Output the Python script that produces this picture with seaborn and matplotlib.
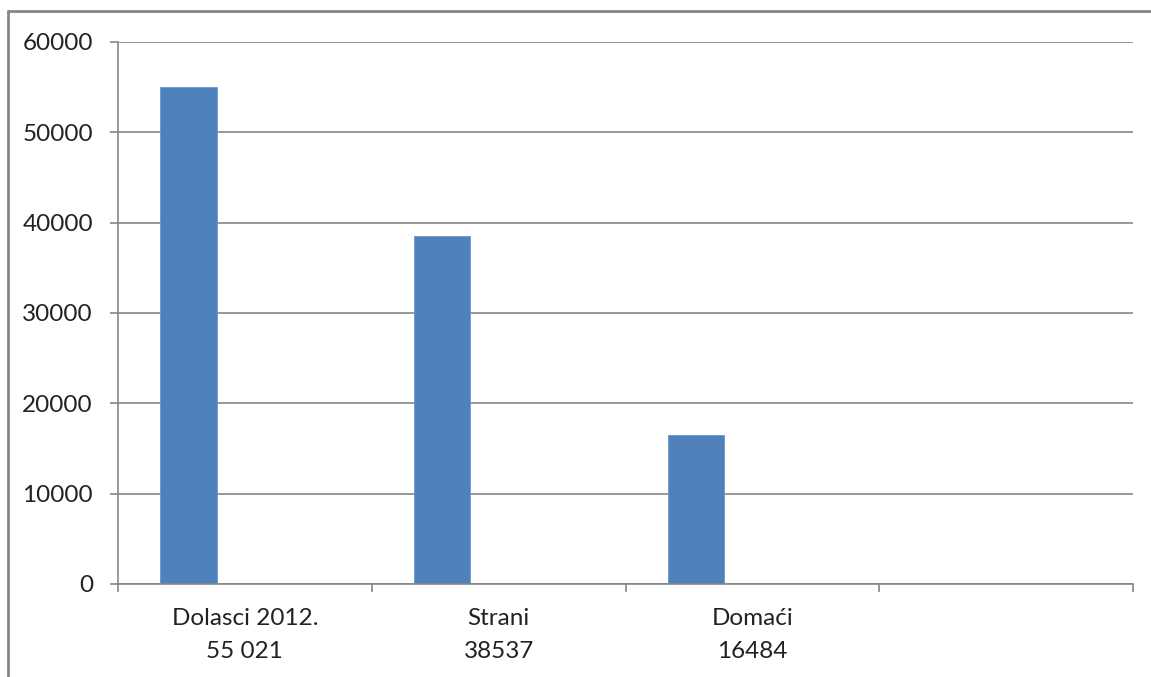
import pandas as pd
import seaborn as sns
import matplotlib.pyplot as plt
from matplotlib.lines import Line2D

# podaci s grafikona
categories = ["Dolasci 2012.\n55 021", "Strani\n38537", "Domaći\n16484", ""]
series_names = ["Serija 1", "Serija 2", "Serija 3"]
serija1 = [55021, 38537, 16484, None]
serija2 = [None, None, None, None]
serija3 = [None, None, None, None]
y_ticks = [0, 10000, 20000, 30000, 40000, 50000, 60000]

rows = []
for name, vals in zip(series_names, [serija1, serija2, serija3]):
    for cat, v in zip(categories, vals):
        rows.append({"kategorija": cat, "serija": name, "vrijednost": v})
df = pd.DataFrame(rows)

sns.set_style("white")
plt.rcParams['font.family'] = ['Lato', 'DejaVu Sans']

fig = plt.figure(figsize=(11.51, 6.77), dpi=100)
ax = fig.add_axes([0.1025, 0.1374, 0.9844 - 0.1025, 0.938 - 0.1374])

grid_col = "#868686"
sns.barplot(data=df, x="kategorija", y="vrijednost", hue="serija",
            order=categories, hue_order=series_names,
            palette=["#4F81BD", "#C0504D", "#9BBB59"],
            width=0.667, gap=0, saturation=1, legend=False, ax=ax,
            edgecolor="#6B97CC", linewidth=0.6)

ax.set_xlim(-0.5, len(categories) - 0.5)
ax.set_ylim(0, 60000)
ax.set_yticks(y_ticks)
ax.set_yticklabels([str(t) for t in y_ticks])
ax.yaxis.grid(True, color=grid_col, linewidth=1.2)
ax.set_axisbelow(True)

# glavne oznake na granicama kategorija, natpisi u sredini
ax.set_xticks([i - 0.5 for i in range(len(categories) + 1)])
ax.set_xticklabels([])
ax.set_xticks(range(len(categories)), minor=True)
ax.set_xticklabels(categories, minor=True, linespacing=1.75)
ax.tick_params(axis='x', which='major', length=6, color=grid_col, width=1.2, direction='out', bottom=True)
ax.tick_params(axis='x', which='minor', length=0, pad=17, labelsize=17.5, labelcolor="#222222")
ax.tick_params(axis='y', length=6, color=grid_col, width=1.2, direction='out', left=True, pad=12,
               labelsize=17.5, labelcolor="#222222")

for s in ['top', 'right']:
    ax.spines[s].set_visible(False)
for s in ['left', 'bottom']:
    ax.spines[s].set_color(grid_col)
    ax.spines[s].set_linewidth(1.2)

ax.set_xlabel("")
ax.set_ylabel("")

# okvir grafikona (odrezan desno i dolje)
fig.add_artist(Line2D([8 / 1151, 8 / 1151], [1 - 11 / 677, 0], color=grid_col, linewidth=2))
fig.add_artist(Line2D([8 / 1151, 1], [1 - 11 / 677, 1 - 11 / 677], color=grid_col, linewidth=2))

plt.savefig("out.png", dpi=100)
plt.close()
